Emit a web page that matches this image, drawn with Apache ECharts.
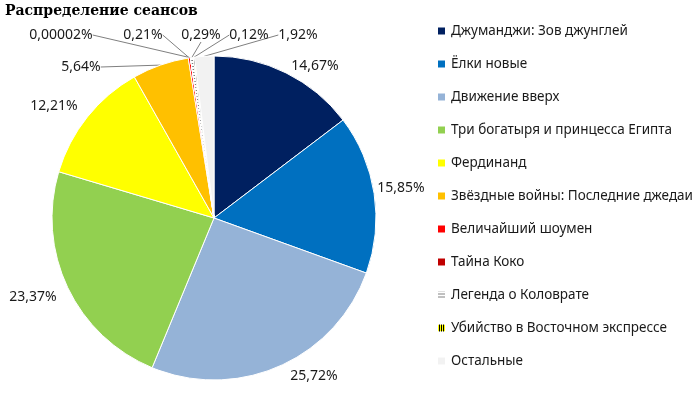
<!DOCTYPE html>
<html>
<head>
<meta charset="utf-8">
<script src="https://cdn.jsdelivr.net/npm/echarts@6/dist/echarts.min.js"></script>
<style>
  html, body { margin: 0; padding: 0; background: #fff; }
  #chart { width: 700px; height: 397px; }
</style>
</head>
<body>
<div id="chart"></div>
<script>
// доли сеансов, % (по часовой стрелке от 12 часов)
var films = ['Джуманджи: Зов джунглей', 'Ёлки новые', 'Движение вверх', 'Три богатыря и принцесса Египта',
  'Фердинанд', 'Звёздные войны: Последние джедаи', 'Величайший шоумен', 'Тайна Коко',
  'Легенда о Коловрате', 'Убийство в Восточном экспрессе', 'Остальные'];
var shares = [14.67, 15.85, 25.72, 23.37, 12.21, 5.64, 0.21, 0.00002, 0.29, 0.12, 1.92];
var colors = ['#002060', '#0070C0', '#95B3D7', '#92D050', '#FFFF00', '#FFC000', '#FF0000', '#C00000',
  '#FFFFFF', '#FFFF00', '#F2F2F2'];

// узорные заливки
var decals = {
  8: { symbol: 'rect', color: '#808080', dashArrayX: [1, 0], dashArrayY: [1, 2], symbolSize: 1 },
  9: { symbol: 'rect', color: '#000000', dashArrayX: [1, 1], dashArrayY: [1, 0], symbolSize: 1 }
};

// где стоят подписи (центр текста), как в оригинале
var labelSpots = {
  0: [315, 66],
  1: [401, 188],
  2: [314, 376],
  3: [33, 297],
  4: [54, 106],
  5: [81, 67],
  6: [143, 35],
  7: [61, 35],
  8: [201, 35],
  9: [249, 35],
  10: [298, 35]
};
var withLine = [5, 6, 7, 8, 9, 10];

function fmt(v) {
  return String(v).replace('.', ',') + '%';
}

var data = films.map(function (name, i) {
  var item = {
    name: name,
    value: shares[i],
    itemStyle: { color: colors[i] }
  };
  if (decals[i]) item.itemStyle.decal = decals[i];
  if (withLine.indexOf(i) < 0) item.labelLine = { show: false };
  return item;
});

var option = {
  backgroundColor: '#fff',
  animation: false,
  title: {
    text: 'Распределение сеансов',
    left: 5,
    top: 4,
    padding: 0,
    textStyle: {
      fontFamily: 'DejaVu Serif',
      fontWeight: 'bold',
      fontSize: 14,
      color: '#000'
    }
  },
  legend: {
    orient: 'vertical',
    left: 436,
    top: 24,
    padding: 0,
    itemGap: 19,
    itemWidth: 9,
    itemHeight: 9,
    icon: 'rect',
    data: films,
    textStyle: {
      fontFamily: 'Noto Sans',
      fontSize: 13.5,
      color: '#1a1a1a',
      lineHeight: 14
    }
  },
  series: [{
    type: 'pie',
    center: [214, 218],
    radius: 162,
    startAngle: 90,
    clockwise: true,
    avoidLabelOverlap: false,
    itemStyle: { borderColor: '#fff', borderWidth: 1 },
    label: {
      show: true,
      position: 'outside',
      fontFamily: 'Noto Sans',
      fontSize: 14,
      color: '#1a1a1a',
      formatter: function (p) { return fmt(p.value); }
    },
    labelLine: {
      show: true,
      length: 6,
      length2: 0,
      lineStyle: { color: '#808080', width: 1 }
    },
    labelLayout: function (p) {
      var s = labelSpots[p.dataIndex];
      if (!s) return {};
      return { x: s[0], y: s[1], align: 'center', verticalAlign: 'middle' };
    },
    data: data
  }]
};

var myChart = echarts.init(document.getElementById('chart'));
myChart.setOption(option);
</script>
</body>
</html>
